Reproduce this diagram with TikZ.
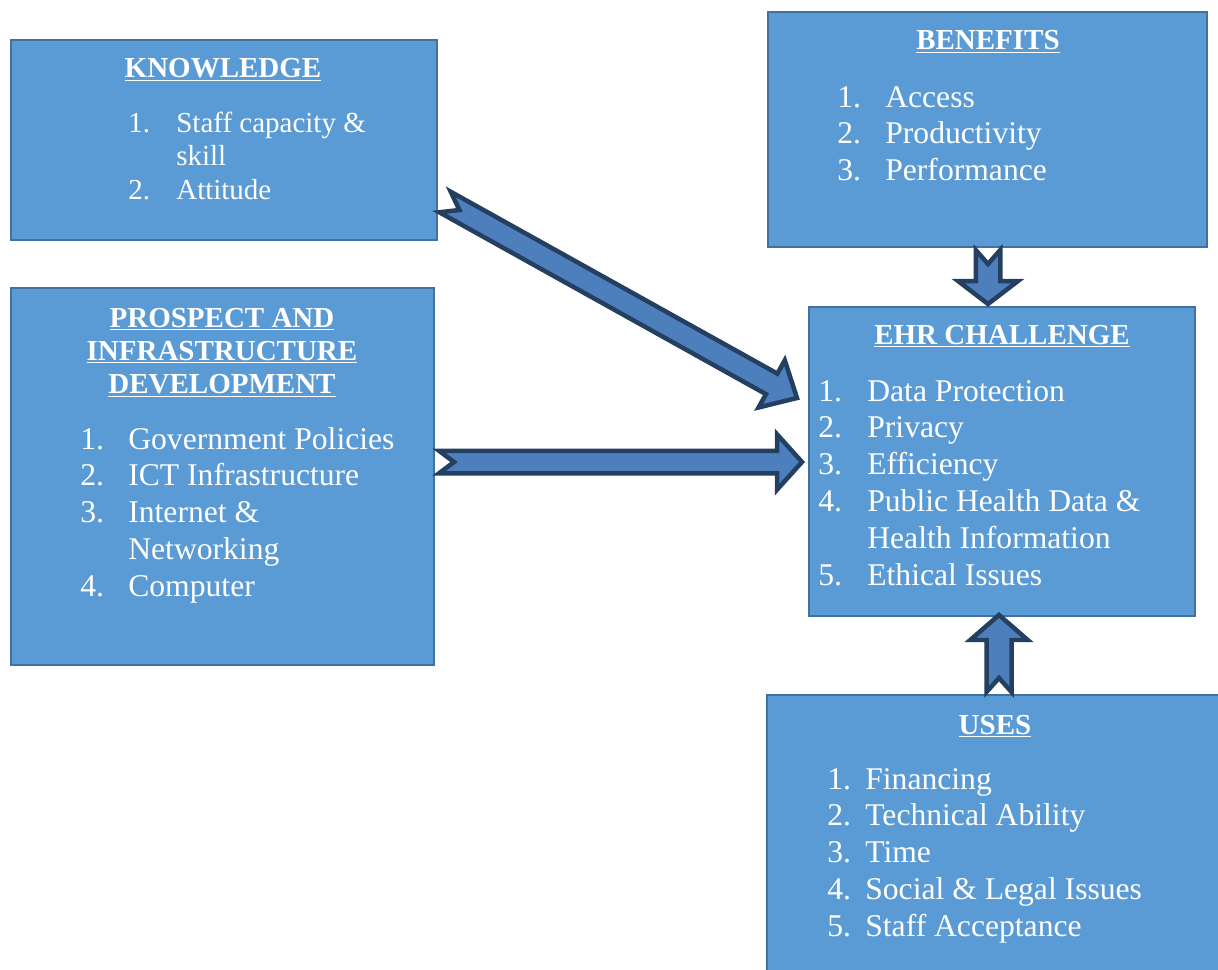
\documentclass[tikz,border=0pt]{standalone}
\usepackage{fontspec}
\setmainfont{Liberation Serif}
\usetikzlibrary{calc, positioning}

\definecolor{boxblue}{RGB}{91,155,213}
\definecolor{boxedge}{RGB}{65,113,156}
\definecolor{arrowblue}{RGB}{77,127,189}
\definecolor{arrowedge}{RGB}{36,63,96}

% notched block arrow: #1 tail, #2 tip, #3 half shaft, #4 half head, #5 head length, #6 notch depth
\newcommand{\blockarrow}[6]{%
  \draw[fatarrow] ($(#1)!#3!90:(#2)$) -- ($(#2)!#5!(#1)!#3!90:(#2)$)
    -- ($(#2)!#5!(#1)!#4!90:(#2)$) -- (#2)
    -- ($(#2)!#5!(#1)!#4!-90:(#2)$) -- ($(#2)!#5!(#1)!#3!-90:(#2)$)
    -- ($(#1)!#3!-90:(#2)$) -- ($(#1)!#6!(#2)$) -- cycle;}

\begin{document}
\begin{tikzpicture}[x=0.02cm, y=-0.02cm,
    box/.style={rectangle, fill=boxblue, draw=boxedge, line width=1.2pt, inner sep=0pt},
    head/.style={text=white, font=\fontsize{16.5}{18.8}\selectfont\bfseries, anchor=base, inner sep=0pt},
    list/.style={text=white, font=\fontsize{18}{21}\selectfont, anchor=base west, inner sep=0pt},
    fatarrow/.style={fill=arrowblue, draw=arrowedge, line width=0.09cm, line join=miter}]
    \clip (0,0) rectangle (1218,970);

    % Knowledge
    \node[box, minimum width=8.52cm, minimum height=4cm] (knowledge) at (224,140) {};
    \node[head] (knowledge-head) at (223,77) {\underline{KNOWLEDGE}};
    \node[list, font=\fontsize{16.5}{19.3}\selectfont] (knowledge-list) at (128,132)
        {\begin{tabular}[t]{@{}p{0.96cm}@{}l@{}}
            1. & Staff capacity \&\\
               & skill\\
            2. & Attitude
        \end{tabular}};

    % Benefits
    \node[box, minimum width=8.78cm, minimum height=4.7cm] (benefits) at (987.5,129.5) {};
    \node[head] (benefits-head) at (988,50) {\underline{BENEFITS}};
    \node[list] (benefits-list) at (837,107)
        {\begin{tabular}[t]{@{}p{0.96cm}@{}l@{}}
            1. & Access\\
            2. & Productivity\\
            3. & Performance
        \end{tabular}};

    % Prospect and infrastructure
    \node[box, minimum width=8.46cm, minimum height=7.54cm] (prospect) at (222.5,476.5) {};
    \node[head] (prospect-head) at (222,327)
        {\begin{tabular}[t]{@{}c@{}}
            \underline{PROSPECT AND}\\
            \underline{INFRASTRUCTURE}\\
            \underline{DEVELOPMENT}
        \end{tabular}};
    \node[list] (prospect-list) at (80,449)
        {\begin{tabular}[t]{@{}p{0.96cm}@{}l@{}}
            1. & Government Policies\\
            2. & ICT Infrastructure\\
            3. & Internet \&\\
               & Networking\\
            4. & Computer
        \end{tabular}};

    % EHR challenge
    \node[box, minimum width=7.72cm, minimum height=6.18cm] (ehr) at (1002,461.5) {};
    \node[head] (ehr-head) at (1002,344) {\underline{EHR CHALLENGE}};
    \node[list] (ehr-list) at (818,401)
        {\begin{tabular}[t]{@{}p{0.98cm}@{}l@{}}
            1. & Data Protection\\
            2. & Privacy\\
            3. & Efficiency\\
            4. & Public Health Data \&\\
               & Health Information\\
            5. & Ethical Issues
        \end{tabular}};

    % Uses
    \node[box, minimum width=9.2cm, minimum height=5.8cm] (uses) at (997,840) {};
    \node[head] (uses-head) at (995,734) {\underline{USES}};
    \node[list] (uses-list) at (827,789)
        {\begin{tabular}[t]{@{}p{0.76cm}@{}l@{}}
            1. & Financing\\
            2. & Technical Ability\\
            3. & Time\\
            4. & Social \& Legal Issues\\
            5. & Staff Acceptance
        \end{tabular}};

    % block arrows into EHR challenge
    \coordinate (knowledge-out) at (445,202);
    \coordinate (ehr-in-a) at (797,398);
    \coordinate (prospect-out) at (439,462);
    \coordinate (ehr-in-b) at (802,462);
    \coordinate (benefits-out) at (988,250);
    \coordinate (ehr-in-c) at (988,304);
    \coordinate (uses-out) at (999,692);
    \coordinate (ehr-in-d) at (999,615);
    \blockarrow{knowledge-out}{ehr-in-a}{0.235cm}{0.54cm}{0.58cm}{0.33cm}
    \blockarrow{prospect-out}{ehr-in-b}{0.225cm}{0.555cm}{0.5cm}{0.3cm}
    \blockarrow{benefits-out}{ehr-in-c}{0.245cm}{0.6cm}{0.46cm}{0.28cm}
    \blockarrow{uses-out}{ehr-in-d}{0.25cm}{0.575cm}{0.5cm}{0.28cm}
\end{tikzpicture}
\end{document}
